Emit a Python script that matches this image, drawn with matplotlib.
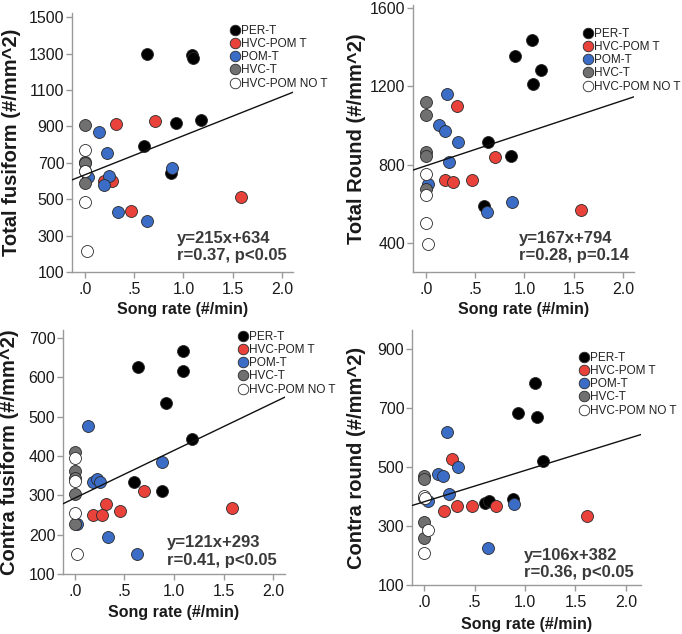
import matplotlib
matplotlib.use("Agg")
import matplotlib.pyplot as plt
from matplotlib.lines import Line2D

plt.rcParams['font.family'] = ['Liberation Sans', 'DejaVu Sans']

# ---------------- data ----------------
groups = ['PER-T', 'HVC-POM T', 'POM-T', 'HVC-T', 'HVC-POM NO T']
group_colors = ['#000000', '#E8423A', '#3B6DC7', '#707070', '#FFFFFF']
xtick_vals = [0.0, 0.5, 1.0, 1.5, 2.0]
xtick_labels = ['.0', '.5', '1.0', '1.5', '2.0']

# Panel 1: Total fusiform
p1_x = [0.63, 1.085, 1.10, 1.18, 0.92, 0.60, 0.875,
        0.315, 0.71, 0.197, 0.28, 0.465, 1.58,
        0.14, 0.224, 0.034, 0.244, 0.19, 0.34, 0.63, 0.885,
        0.0, 0.0, 0.0, 0.0, 0.0,
        0.0, 0.0, 0.0, 0.024]
p1_y = [1300, 1292, 1278, 935, 918, 795, 642,
        915, 930, 602, 600, 435, 510,
        870, 755, 622, 630, 578, 430, 378, 670,
        910, 705, 698, 655, 588,
        770, 655, 482, 215]
p1_g = ['PER-T'] * 7 + ['HVC-POM T'] * 6 + ['POM-T'] * 8 + ['HVC-T'] * 5 + ['HVC-POM NO T'] * 4
p1_fit = (215, 634)
p1_stats = ['y=215x+634', 'r=0.37, p<0.05']
p1_yticks = [100, 300, 500, 700, 900, 1100, 1300, 1500]

# Panel 2: Total Round
p2_x = [1.075, 0.905, 1.17, 1.085, 0.627, 0.864, 0.593,
        0.315, 0.70, 0.193, 0.278, 0.464, 1.57,
        0.214, 0.136, 0.19, 0.33, 0.237, 0.024, 0.617, 0.875,
        0.0, 0.0, 0.0, 0.0, 0.0,
        0.0, 0.0, 0.0, 0.024]
p2_y = [1438, 1353, 1285, 1212, 914, 843, 591,
        1098, 839, 723, 710, 723, 570,
        1161, 1004, 974, 914, 814, 701, 560, 609,
        1118, 1055, 865, 845, 676,
        752, 645, 503, 393]
p2_g = ['PER-T'] * 7 + ['HVC-POM T'] * 6 + ['POM-T'] * 8 + ['HVC-T'] * 5 + ['HVC-POM NO T'] * 4
p2_fit = (167, 794)
p2_stats = ['y=167x+794', 'r=0.28, p=0.14']
p2_yticks = [400, 800, 1200, 1600]

# Panel 3: Contra fusiform
p3_x = [0.64, 1.086, 1.09, 0.92, 1.18, 0.60, 0.875,
        0.70, 0.31, 0.185, 0.27, 0.46, 1.59,
        0.134, 0.88, 0.18, 0.22, 0.25, 0.025, 0.335, 0.63,
        0.0, 0.0, 0.0, 0.0, 0.0,
        0.0, 0.0, 0.0, 0.02]
p3_y = [627, 667, 617, 535, 442, 335, 310,
        310, 277, 251, 251, 260, 268,
        477, 385, 333, 342, 333, 227, 193, 152,
        411, 362, 344, 304, 228,
        395, 337, 254, 152]
p3_g = ['PER-T'] * 7 + ['HVC-POM T'] * 6 + ['POM-T'] * 8 + ['HVC-T'] * 5 + ['HVC-POM NO T'] * 4
p3_fit = (121, 293)
p3_stats = ['y=121x+293', 'r=0.41, p<0.05']
p3_yticks = [100, 200, 300, 400, 500, 600, 700]

# Panel 4: Contra round
p4_x = [1.10, 0.93, 1.117, 1.18, 0.60, 0.645, 0.886,
        0.274, 0.324, 0.473, 0.71, 0.198, 1.61,
        0.225, 0.337, 0.14, 0.19, 0.248, 0.04, 0.89, 0.635,
        0.0, 0.0, 0.0, 0.0, 0.0,
        0.0, 0.04, 0.0, 0.01]
p4_y = [784, 684, 669, 519, 377, 384, 392,
        526, 368, 368, 368, 350, 334,
        618, 500, 477, 468, 410, 384, 376, 227,
        470, 459, 395, 313, 259,
        402, 286, 210, 396]
p4_g = ['PER-T'] * 7 + ['HVC-POM T'] * 6 + ['POM-T'] * 8 + ['HVC-T'] * 5 + ['HVC-POM NO T'] * 4
p4_fit = (106, 382)
p4_stats = ['y=106x+382', 'r=0.36, p<0.05']
p4_yticks = [100, 300, 500, 700, 900]

ylabels = ['Total fusiform (#/mm^2)', 'Total Round (#/mm^2)',
           'Contra fusiform (#/mm^2)', 'Contra round (#/mm^2)']
xlabel = 'Song rate (#/min)'

# ---------------- layout (pixels) ----------------
W, H = 682, 634
fig = plt.figure(figsize=(W / 100, H / 100), dpi=100)

panels = [
    dict(box=(72, 13, 293, 272), xlim=(-0.13, 2.11), ylim=(100, 1523),
         x=p1_x, y=p1_y, g=p1_g, fit=p1_fit, stats=p1_stats, yt=p1_yticks,
         txt=(177, 243, 260), leg=(235, 32), ylab_x=12, xlab_y=309),
    dict(box=(413, 5, 634, 272), xlim=(-0.13, 2.11), ylim=(252, 1615),
         x=p2_x, y=p2_y, g=p2_g, fit=p2_fit, stats=p2_stats, yt=p2_yticks,
         txt=(519, 243, 260), leg=(588, 35), ylab_x=356, xlab_y=309),
    dict(box=(63, 330, 285, 574), xlim=(-0.12, 2.12), ylim=(100, 720),
         x=p3_x, y=p3_y, g=p3_g, fit=p3_fit, stats=p3_stats, yt=p3_yticks,
         txt=(167, 547, 565), leg=(243, 338), ylab_x=10, xlab_y=612),
    dict(box=(412, 330, 641, 585), xlim=(-0.12, 2.15), ylim=(100, 964),
         x=p4_x, y=p4_y, g=p4_g, fit=p4_fit, stats=p4_stats, yt=p4_yticks,
         txt=(524, 560, 577), leg=(584, 359), ylab_x=356, xlab_y=624),
]

spine_col = '#9a9a9a'
txt_col = '#1a1a1a'
stat_col = '#3a3a3a'

for i, p in enumerate(panels):
    l, t, r, b = p['box']
    ax = fig.add_axes([l / W, 1 - b / H, (r - l) / W, (b - t) / H])
    ax.set_xlim(*p['xlim'])
    ax.set_ylim(*p['ylim'])
    for s in ['top', 'right']:
        ax.spines[s].set_visible(False)
    for s in ['left', 'bottom']:
        ax.spines[s].set_color(spine_col)
        ax.spines[s].set_linewidth(1.0)
    ax.set_xticks(xtick_vals)
    ax.set_xticklabels(xtick_labels)
    ax.set_yticks(p['yt'])
    ax.set_yticklabels([str(v) for v in p['yt']])
    ax.tick_params(axis='both', colors=spine_col, labelcolor=txt_col,
                   labelsize=11.5, length=4, width=1)
    ax.tick_params(axis='y', pad=1.5)
    ax.tick_params(axis='x', pad=3)

    # points, group by group in legend order
    handles = []
    for gname, col in zip(groups, group_colors):
        xs = [xv for xv, gg in zip(p['x'], p['g']) if gg == gname]
        ys = [yv for yv, gg in zip(p['y'], p['g']) if gg == gname]
        ax.scatter(xs, ys, s=74, c=col, edgecolors='#2a2a2a',
                   linewidths=0.6, zorder=3, clip_on=False)
        handles.append(Line2D([], [], marker='o', linestyle='none',
                              markersize=7.6, markerfacecolor=col,
                              markeredgecolor='#2a2a2a', markeredgewidth=0.6,
                              label=gname))

    # regression line across full x range
    m, c0 = p['fit']
    x0, x1 = p['xlim']
    ax.plot([x0, x1], [m * x0 + c0, m * x1 + c0], color='#111111',
            linewidth=1.0, zorder=4)

    # legend
    lx, ly = p['leg']
    fs = 8.5
    fpx = fs * 100 / 72
    axw, axh = r - l, b - t
    leg = ax.legend(handles=handles, loc='upper left',
                    bbox_to_anchor=((lx - l - 0.4 * fpx) / axw,
                                    (b - ly + 0.6 * fpx) / axh),
                    frameon=False, fontsize=fs, handlelength=0.8,
                    handletextpad=0.1, labelspacing=0.1, borderpad=0,
                    borderaxespad=0)
    for tx in leg.get_texts():
        tx.set_color('#222222')

    # stats text
    tx0, by1, by2 = p['txt']
    fig.text(tx0 / W, 1 - by1 / H, p['stats'][0], fontsize=12,
             fontweight='bold', color=stat_col, ha='left', va='baseline')
    fig.text(tx0 / W, 1 - by2 / H, p['stats'][1], fontsize=12,
             fontweight='bold', color=stat_col, ha='left', va='baseline')

    # axis labels
    fig.text(p['ylab_x'] / W, 1 - ((t + b) / 2) / H, ylabels[i], rotation=90,
             fontsize=14.5, fontweight='bold', color=txt_col,
             ha='center', va='center')
    fig.text(((l + r) / 2) / W, 1 - p['xlab_y'] / H, xlabel,
             fontsize=11.5, fontweight='bold', color=txt_col,
             ha='center', va='center')

fig.savefig('out.png', dpi=100)
